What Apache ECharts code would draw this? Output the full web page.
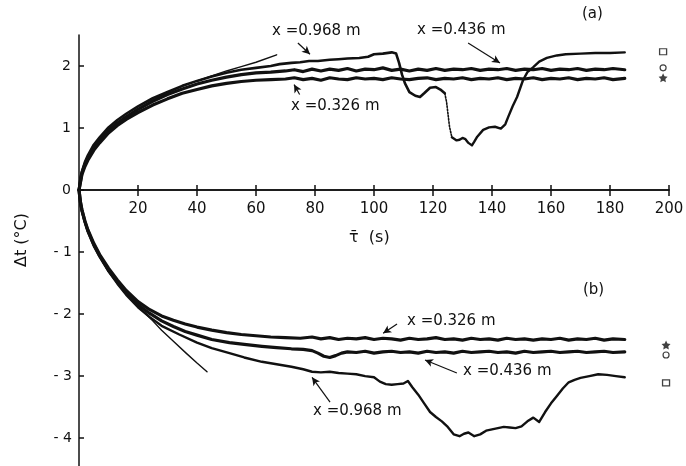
<!DOCTYPE html>
<html><head><meta charset="utf-8">
<script src="https://cdn.jsdelivr.net/npm/echarts@6/dist/echarts.min.js"></script>
<style>html,body{margin:0;padding:0;background:#fff}#c{width:686px;height:466px}</style>
</head><body><div id="c"></div>
<script>
// ---- tick labels ----
const yTicksTop = [0,1,2];
const yTicksBottom = [-4,-3,-2,-1];

// ---- (a) heating curves ----
const topX968 = [[0,0],[0.5,0.2],[1,0.3],[2,0.45],[3,0.56],[5,0.73],[7,0.85],[10,1.01],[13,1.13],[16,1.23],[20,1.35],[25,1.48],[30,1.58],[35,1.68],[40,1.76],[45,1.83],[50,1.89],[55,1.94],[60,1.97],[65,2.0],[68,2.03],[72,2.05],[75,2.06],[78,2.08],[81,2.08],[85,2.1],[88,2.11],[91,2.12],[95,2.13],[98,2.15],[100,2.19],[103,2.2],[106,2.22],[107.5,2.2],[108.5,2.05],[109.5,1.86],[110.5,1.72],[112,1.58],[114,1.52],[115.6,1.5],[117,1.56],[119,1.65],[121,1.66],[122.5,1.62],[124,1.56]];
const topX968Gap = [[124,1.56],[124.6,1.42],[125.1,1.22],[125.6,1.02],[126.4,0.85]];
const topX968Tail = [[126.4,0.85],[128,0.8],[129,0.81],[130,0.84],[131,0.82],[132,0.76],[133.2,0.72],[134,0.78],[135,0.86],[137,0.97],[139,1.01],[141,1.02],[143,0.99],[144.5,1.06],[145.5,1.18],[147,1.35],[148.5,1.5],[150.5,1.77],[152,1.9],[154,1.98],[156,2.07],[158.6,2.13],[162,2.17],[165,2.19],[170,2.2],[175,2.21],[180,2.21],[185,2.22]];
const topX436 = [[0,0],[1,0.28],[2,0.42],[3,0.52],[5,0.68],[7,0.8],[10,0.96],[13,1.08],[16,1.18],[20,1.3],[25,1.43],[30,1.54],[35,1.63],[40,1.71],[45,1.77],[50,1.82],[55,1.86],[60,1.89],[65,1.9],[70,1.92],[73,1.94],[76,1.91],[79,1.95],[82,1.92],[85,1.95],[88,1.93],[91,1.96],[94,1.92],[97,1.95],[100,1.94],[103,1.97],[106,1.93],[109,1.95],[112,1.92],[115,1.95],[118,1.93],[121,1.96],[124,1.93],[127,1.95],[130,1.94],[133,1.96],[136,1.93],[139,1.95],[142,1.94],[145,1.96],[148,1.93],[151,1.95],[154,1.94],[157,1.96],[160,1.93],[163,1.95],[166,1.94],[169,1.96],[172,1.93],[175,1.95],[178,1.94],[181,1.96],[185,1.94]];
const topX326 = [[0,0],[1,0.25],[2,0.38],[3,0.48],[5,0.64],[7,0.76],[10,0.92],[13,1.04],[16,1.14],[20,1.25],[25,1.37],[30,1.47],[35,1.56],[40,1.62],[45,1.68],[50,1.72],[55,1.75],[60,1.77],[65,1.78],[70,1.79],[73,1.81],[76,1.78],[79,1.8],[82,1.77],[85,1.81],[88,1.79],[91,1.78],[94,1.81],[97,1.79],[100,1.8],[103,1.78],[106,1.81],[109,1.79],[112,1.78],[115,1.8],[118,1.81],[121,1.78],[124,1.8],[127,1.79],[130,1.81],[133,1.78],[136,1.8],[139,1.79],[142,1.81],[145,1.78],[148,1.8],[151,1.79],[154,1.81],[157,1.78],[160,1.8],[163,1.79],[166,1.81],[169,1.78],[172,1.8],[175,1.79],[178,1.81],[181,1.78],[185,1.8]];
const topTheory = [[0,0],[1,0.3],[2,0.43],[5,0.67],[10,0.95],[15,1.15],[20,1.31],[25,1.45],[30,1.57],[35,1.67],[40,1.76],[45,1.84],[50,1.92],[55,1.99],[60,2.06],[67,2.18]];

// ---- (b) cooling curves ----
const botX326 = [[0,0],[0.5,-0.2],[1,-0.32],[2,-0.5],[3,-0.64],[5,-0.86],[7,-1.04],[10,-1.26],[13,-1.45],[16,-1.62],[20,-1.8],[24,-1.93],[28,-2.03],[32,-2.1],[36,-2.16],[40,-2.21],[45,-2.26],[50,-2.3],[55,-2.33],[60,-2.35],[65,-2.37],[70,-2.38],[75,-2.39],[79,-2.37],[82,-2.4],[85,-2.38],[88,-2.41],[91,-2.39],[94,-2.4],[97,-2.38],[100,-2.41],[103,-2.39],[106,-2.4],[109,-2.42],[112,-2.39],[115,-2.41],[118,-2.4],[121,-2.38],[124,-2.41],[127,-2.4],[130,-2.42],[133,-2.39],[136,-2.41],[139,-2.4],[142,-2.42],[145,-2.39],[148,-2.41],[151,-2.4],[154,-2.42],[157,-2.4],[160,-2.41],[163,-2.39],[166,-2.42],[169,-2.4],[172,-2.41],[175,-2.39],[178,-2.42],[181,-2.4],[185,-2.41]];
const botX436 = [[0,0],[0.5,-0.2],[1,-0.33],[2,-0.51],[3,-0.66],[5,-0.88],[7,-1.06],[10,-1.29],[13,-1.48],[16,-1.66],[20,-1.85],[24,-1.99],[28,-2.11],[32,-2.2],[36,-2.28],[40,-2.34],[45,-2.41],[51,-2.46],[56,-2.49],[62,-2.52],[67,-2.54],[72,-2.56],[76,-2.57],[79,-2.59],[81,-2.63],[83,-2.68],[85,-2.7],[87,-2.67],[89,-2.63],[91,-2.61],[94,-2.62],[97,-2.6],[100,-2.63],[103,-2.61],[106,-2.6],[109,-2.62],[112,-2.61],[115,-2.63],[118,-2.6],[121,-2.62],[124,-2.61],[127,-2.63],[130,-2.6],[133,-2.62],[136,-2.61],[139,-2.6],[142,-2.62],[145,-2.61],[148,-2.63],[151,-2.6],[154,-2.62],[157,-2.61],[160,-2.6],[163,-2.62],[166,-2.61],[169,-2.6],[172,-2.62],[175,-2.61],[178,-2.6],[181,-2.62],[185,-2.61]];
const botX968 = [[0,0],[0.5,-0.21],[1,-0.34],[2,-0.52],[3,-0.67],[5,-0.9],[7,-1.08],[10,-1.31],[13,-1.51],[16,-1.69],[20,-1.89],[24,-2.05],[28,-2.19],[34,-2.33],[40,-2.46],[45,-2.55],[51,-2.63],[56,-2.7],[62,-2.77],[67,-2.81],[72,-2.85],[76,-2.89],[79,-2.93],[82,-2.94],[85,-2.93],[88,-2.95],[91,-2.96],[94,-2.97],[97,-3.0],[100,-3.02],[102,-3.09],[104,-3.13],[106,-3.14],[108,-3.13],[110,-3.12],[111.5,-3.08],[113,-3.18],[115,-3.3],[117,-3.44],[119,-3.58],[121,-3.66],[123,-3.73],[125,-3.82],[127,-3.94],[129,-3.97],[130.5,-3.93],[132,-3.91],[134,-3.97],[136,-3.94],[138,-3.88],[140,-3.86],[142,-3.84],[144,-3.82],[146,-3.83],[148,-3.84],[150,-3.81],[152,-3.73],[154,-3.67],[156,-3.74],[158,-3.58],[160,-3.44],[162,-3.32],[164,-3.2],[166,-3.1],[168,-3.06],[170,-3.03],[173,-3.0],[176,-2.97],[179,-2.98],[182,-3.0],[185,-3.02]];
const botTheory = [[0,0],[1,-0.34],[2,-0.52],[5,-0.9],[10,-1.32],[15,-1.62],[17,-1.73],[20,-1.88],[25,-2.11],[28,-2.26],[32,-2.44],[36.3,-2.63],[40,-2.79],[43.4,-2.93]];

// ---- steady-state symbols ----
const topSquare = [[198,2.23]], topCircle = [[198,1.97]], topStar = [[198,1.81]];
const botStar = [[199,-2.5]], botCircle = [[199,-2.66]], botSquare = [[199,-3.11]];

// ---- annotation arrows (data coords: from, to) ----
const arrowsTop = [
  [[74.2,2.37],[78.3,2.19]],
  [[131.9,2.37],[142.7,2.05]],
  [[74.8,1.54],[72.9,1.7]]
];
const arrowsBottom = [
  [[107.8,-2.16],[103.1,-2.31]],
  [[128.1,-2.95],[117.3,-2.74]],
  [[85.1,-3.42],[79,-3.02]]
];
const labelTexts = ['x =0.968 m','x =0.436 m','x =0.326 m','x =0.326 m','x =0.436 m','x =0.968 m'];

const INK = '#111';
const FONT = 'DejaVu Sans';
const star = 'path://M0,-10L2.9,-4L9.5,-3.1L4.7,1.5L5.9,8.1L0,5L-5.9,8.1L-4.7,1.5L-9.5,-3.1L-2.9,-4Z';

function lineSeries(data, width, g, type) {
  return {type:'line', data, xAxisIndex:g, yAxisIndex:g, showSymbol:false, symbol:'none', silent:true, clip:false,
    lineStyle:{color:INK, width, type: type||'solid', join:'round', cap:'round'}};
}
function arrowSeries(list, g) {
  return {type:'line', data:[], xAxisIndex:g, yAxisIndex:g, silent:true,
    markLine:{silent:true, animation:false, symbol:['none','arrow'], symbolSize:[6,8],
      lineStyle:{color:INK, width:1.2, type:'solid'}, label:{show:false},
      data: list.map(a=>[{coord:a[0]},{coord:a[1]}])}};
}
function markSeries(data, g, symbol, size, filled) {
  return {type:'scatter', data, xAxisIndex:g, yAxisIndex:g, symbol, symbolSize:size, silent:true, clip:false,
    itemStyle: filled ? {color:INK} : {color:'#fff', borderColor:INK, borderWidth:1.2}};
}

const axisLineStyle = {color:INK, width:1.5};
const chart = echarts.init(document.getElementById('c'), null, {renderer:'canvas'});
chart.setOption({
  animation:false,
  backgroundColor:'#fff',
  grid:[
    {left:79, right:17, top:35, height:155, containLabel:false, outerBoundsMode:'none'},
    {left:79, right:17, top:190, bottom:0, containLabel:false, outerBoundsMode:'none'}
  ],
  xAxis:[
    {type:'value', gridIndex:0, min:0, max:200, interval:20, position:'bottom',
      axisLine:{onZero:false, lineStyle:axisLineStyle},
      axisTick:{show:true, inside:true, length:5, lineStyle:axisLineStyle},
      axisLabel:{show:false}, splitLine:{show:false}},
    {type:'value', gridIndex:1, min:0, max:200, interval:20, position:'top',
      axisLine:{onZero:false, lineStyle:axisLineStyle},
      axisTick:{show:true, inside:true, length:6, lineStyle:axisLineStyle},
      axisLabel:{show:true, inside:true, showMinLabel:false, margin:12, color:INK, fontFamily:FONT, fontSize:15},
      splitLine:{show:false}}
  ],
  yAxis:[
    {type:'value', gridIndex:0, min:0, max:2.5,
      axisLine:{show:true, onZero:false, lineStyle:axisLineStyle},
      axisTick:{show:true, inside:true, length:5, customValues:yTicksTop, lineStyle:axisLineStyle},
      axisLabel:{show:true, customValues:yTicksTop, margin:8, color:INK, fontFamily:FONT, fontSize:14},
      splitLine:{show:false}},
    {type:'value', gridIndex:1, min:-4.45, max:0,
      axisLine:{show:true, onZero:false, lineStyle:axisLineStyle},
      axisTick:{show:true, inside:true, length:5, customValues:yTicksBottom, lineStyle:axisLineStyle},
      axisLabel:{show:true, customValues:yTicksBottom, margin:7, color:INK, fontFamily:FONT, fontSize:14,
        formatter:v=>String(v).replace('-','- ')},
      splitLine:{show:false}}
  ],
  series:[
    lineSeries(topX326,3.2,0), lineSeries(topX436,3.2,0), lineSeries(topX968,2.6,0),
    lineSeries(topX968Gap,1.6,0,'dotted'), lineSeries(topX968Tail,2.4,0),
    lineSeries(topTheory,1.4,0),
    lineSeries(botX326,3.2,1), lineSeries(botX436,3.2,1), lineSeries(botX968,2.4,1),
    lineSeries(botTheory,1.4,1),
    arrowSeries(arrowsTop,0), arrowSeries(arrowsBottom,1),
    markSeries(topSquare,0,'rect',[7,6],false), markSeries(topCircle,0,'circle',6,false), markSeries(topStar,0,star,9,true),
    markSeries(botSquare,1,'rect',[7,6],false), markSeries(botCircle,1,'circle',6,false), markSeries(botStar,1,star,9,true)
  ],
  graphic:[
    {type:'text', left:272, top:24, style:{text:labelTexts[0], font:'15px "DejaVu Sans"', fill:INK}},
    {type:'text', left:417, top:23, style:{text:labelTexts[1], font:'15px "DejaVu Sans"', fill:INK}},
    {type:'text', left:291, top:99, style:{text:labelTexts[2], font:'15px "DejaVu Sans"', fill:INK}},
    {type:'text', left:407, top:314, style:{text:labelTexts[3], font:'15px "DejaVu Sans"', fill:INK}},
    {type:'text', left:463, top:364, style:{text:labelTexts[4], font:'15px "DejaVu Sans"', fill:INK}},
    {type:'text', left:313, top:404, style:{text:labelTexts[5], font:'15px "DejaVu Sans"', fill:INK}},
    {type:'text', left:582, top:7, style:{text:'(a)', font:'15px "DejaVu Sans"', fill:INK}},
    {type:'text', left:583, top:283, style:{text:'(b)', font:'15px "DejaVu Sans"', fill:INK}},
    {type:'text', left:349, top:230, style:{text:'τ̄  (s)', font:'16px "DejaVu Sans"', fill:INK}},
    {type:'text', x:22, y:240, rotation:Math.PI/2, style:{text:'Δt (°C)', font:'16px "DejaVu Sans"', fill:INK, align:'center', verticalAlign:'middle'}}
  ]
});
</script></body></html>
